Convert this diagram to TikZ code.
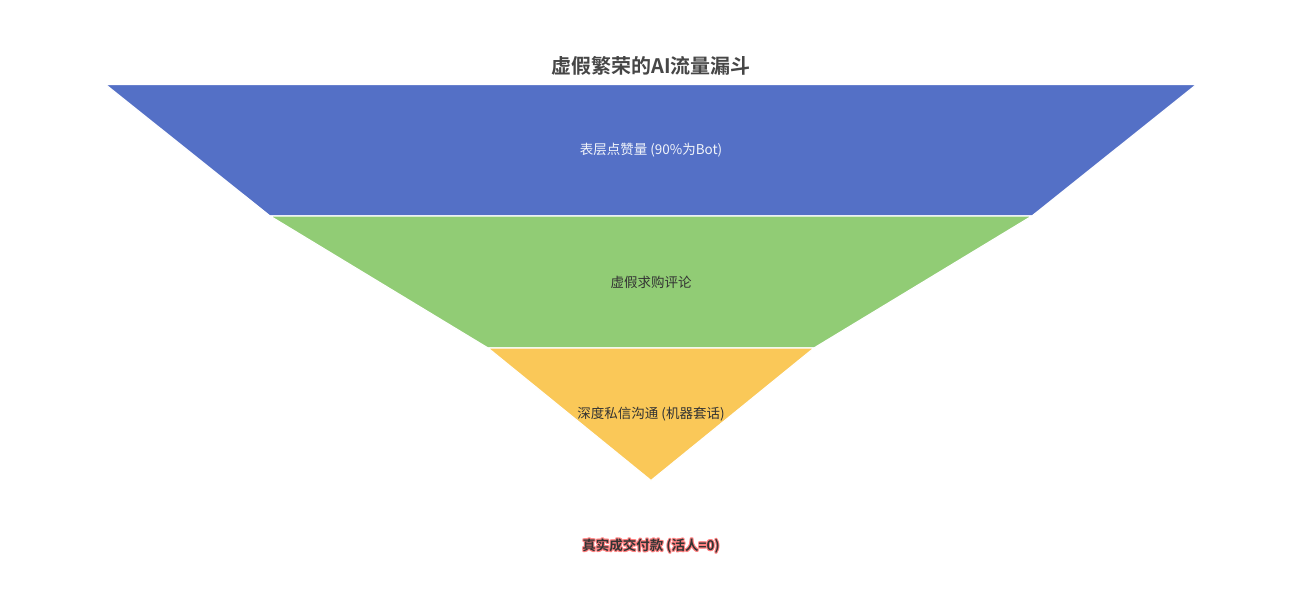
\documentclass[tikz,border=0pt]{standalone}
\usepackage{fontspec}
\setmainfont{Noto Sans CJK SC}[BoldFont={Noto Sans CJK SC Bold}]
\usepackage{tikz}
\usetikzlibrary{calc}
\definecolor{layerblue}{HTML}{5470C6}
\definecolor{layergreen}{HTML}{91CC75}
\definecolor{layeryellow}{HTML}{FAC858}
\definecolor{titlegray}{HTML}{464646}
\definecolor{labelgray}{HTML}{333333}
\colorlet{glowred}{red!50!white}

\begin{document}
\begin{tikzpicture}[x=1pt,y=-1pt]
\useasboundingbox (0,0) rectangle (1298,600);
\tikzset{layer/.style={draw=white,line width=1.2pt,line join=round},
  lbl/.style={font=\fontsize{13.5}{15}\selectfont,text=labelgray,inner sep=0pt}}
\path[fill=layerblue,layer] (105.5,84.5) -- (1196.5,84.5) -- (1032,216) -- (270,216) -- cycle;
\path[fill=layergreen,layer] (270,216) -- (1032,216) -- (814,348) -- (488,348) -- cycle;
\path[fill=layeryellow,layer] (488,348) -- (814,348) -- (651,480.5) -- cycle;
\node[font=\fontsize{20}{22}\selectfont\bfseries,text=titlegray] (title) at (651,66) {虚假繁荣的AI流量漏斗};
\node[lbl,text=white!92!layerblue] (bluelbl) at (651,150) {表层点赞量 (90\%为Bot)};
\node[lbl] (greenlbl) at (651,282) {虚假求购评论};
\node[lbl] (yellowlbl) at (651,414) {深度私信沟通 (机器套话)};
\foreach \dx/\dy [count=\i] in {-1/0,1/0,0/-1,0/1,-.7/-.7,.7/.7,-.7/.7,.7/-.7}
  \node[lbl,font=\fontsize{13.5}{15}\selectfont\bfseries,text=glowred] (glow\i) at (651+\dx,546+\dy) {真实成交付款 (活人=0)};
\node[lbl,font=\fontsize{13.5}{15}\selectfont\bfseries,text=labelgray] (result) at (651,546) {真实成交付款 (活人=0)};
\end{tikzpicture}
\end{document}
